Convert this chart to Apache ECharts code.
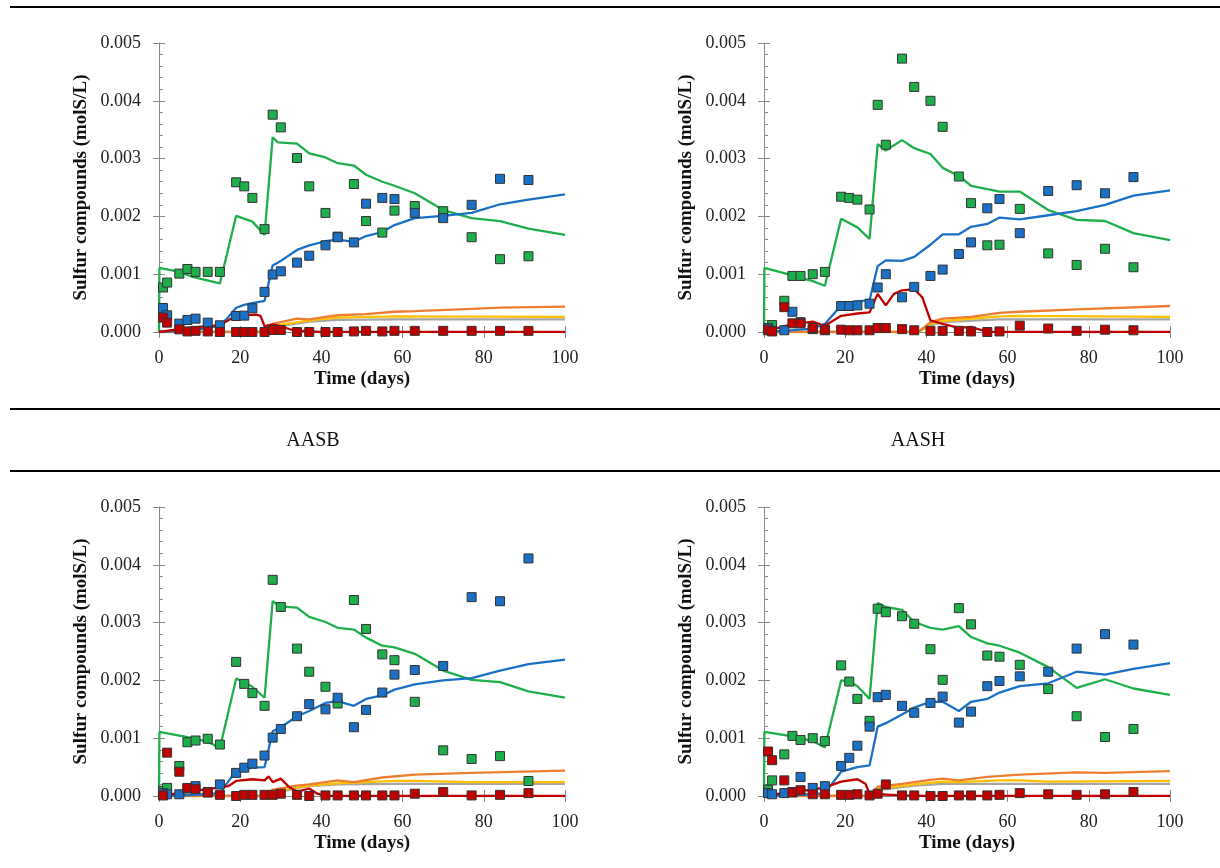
<!DOCTYPE html>
<html><head><meta charset="utf-8">
<script src="https://cdn.jsdelivr.net/npm/echarts@6/dist/echarts.min.js"></script>
<style>html,body{margin:0;padding:0;background:#fff}#c{width:1220px;height:868px}</style>
</head><body><div id="c"></div><script>
// ---------- DATA ----------
const sampleDays = [1,2,5,7,9,12,15,19,21,23,26,28,30,34,37,41,44,48,51,55,58,63,70,77,84,91];
const xTickValues = [0,20,40,60,80,100];
const yTickValues = [0,0.001,0.002,0.003,0.004,0.005];
const captionLabels = ['AASB','AASH'];
const yAxisTitle = 'Sulfur compounds (molS/L)';
const xAxisTitle = 'Time (days)';

// Panel 1 (AASB)
const p1GreenObs = [0.00077,0.000855,0.00101,0.00109,0.00104,0.00104,0.00104,0.00259,0.00252,0.00232,0.00178,0.00376,0.00354,0.00301,0.00252,0.00206,0.00165,0.00256,0.00192,0.00172,0.0021,0.00218,0.00209,0.00164,0.00126,0.00131];
const p1BlueObs = [0.000416,0.000289,0.000145,0.000208,0.000231,0.000162,0.000116,0.000277,0.000283,0.00041,0.000694,0.000994,0.00105,0.0012,0.00132,0.0015,0.00164,0.00155,0.00222,0.00232,0.0023,0.00206,0.00197,0.0022,0.00265,0.00263];
const p1RedObs = [0.000249,0.000162,0.000046,0.00001,0.00002,0.00001,0,0,0,0,0,0.000035,0.000035,0,0,0,0,0.00001,0.00002,0.00001,0.00002,0.00002,0.00002,0.00002,0.00002,0.00002];
const p1GreenModelT = [0,0.1,5,8,15,19,23,26,28,29.3,34,37,41,44,48,51,55,58,63,70,77,84,91,100];
const p1GreenModel = [0,0.00111,0.00104,0.00096,0.00084,0.00201,0.00191,0.00168,0.00337,0.00328,0.00326,0.00309,0.00302,0.00292,0.00288,0.00272,0.0026,0.00253,0.0024,0.00211,0.00197,0.00192,0.00179,0.00168];
const p1BlueModelT = [0,5,9,12,15,17,19,21,23,26,28,30,34,37,41,44,48,51,55,58,63,70,77,84,91,100];
const p1BlueModel = [0,0.00002,0.00004,0.00007,0.00011,0.00025,0.00042,0.00047,0.0005,0.00054,0.00115,0.00123,0.00142,0.0015,0.00157,0.0016,0.00156,0.00166,0.00173,0.00185,0.00197,0.00201,0.00206,0.00221,0.00229,0.00238];
const p1RedModelT = [0,7,12,15,17,19,24,25,26,28,30,33,37,40,100];
const p1RedModel = [0,0.00007,0.0001,0.00012,0.0002,0.00028,0.0003,0.00028,0.0001,0.00013,0.0001,0.00003,0.00001,0,0];
const p1OrangeModelT = [0,26,28,34,37,41,44,51,58,63,77,84,100];
const p1OrangeModel = [0,0,0.00014,0.00023,0.00022,0.00026,0.00029,0.00031,0.00035,0.00036,0.0004,0.00042,0.00044];
const p1YellowModelT = [0,26,28,37,44,58,100];
const p1YellowModel = [0,0,0.0001,0.0002,0.00025,0.00027,0.00026];
const p1GrayModelT = [0,26,28,37,44,58,100];
const p1GrayModel = [0,0,0.00008,0.00018,0.00021,0.00022,0.00022];

// Panel 2 (AASH)
const p2GreenObs = [0.00003,0.00012,0.00054,0.00097,0.00097,0.001,0.00104,0.00234,0.00232,0.00229,0.00212,0.00393,0.00324,0.00473,0.00424,0.004,0.00355,0.00269,0.00223,0.0015,0.00151,0.00213,0.00136,0.00116,0.00144,0.00112];
const p2BlueObs = [0.00007,0.00002,0.00003,0.00035,0.00017,0.00005,0.00003,0.00045,0.00045,0.00046,0.00049,0.00077,0.001,0.0006,0.00078,0.00097,0.00108,0.00135,0.00155,0.00214,0.0023,0.00171,0.00244,0.00254,0.0024,0.00268];
const p2RedObs = [0.00004,0.00001,0.00043,0.00015,0.00015,0.00007,0.00004,0.00004,0.00003,0.00003,0.00003,0.00007,0.00007,0.00005,0.00003,0.00002,0.00002,0.00002,0.00001,0,0.00001,0.00011,0.00006,0.00002,0.00004,0.00003];
const p2GreenModelT = [0,0.1,7,12,15,19,23,26,28,30,34,37,41,44,48,51,55,58,63,70,77,84,91,100];
const p2GreenModel = [0,0.00111,0.00098,0.00088,0.0008,0.00196,0.00181,0.00161,0.00325,0.00314,0.00332,0.00318,0.00308,0.00284,0.0027,0.00253,0.00247,0.00243,0.00243,0.00211,0.00194,0.00192,0.00171,0.00159];
const p2BlueModelT = [0,5,12,15,19,23,26,28,30,34,37,41,44,48,51,55,58,63,70,77,84,91,100];
const p2BlueModel = [0,0.00002,0.00006,0.00014,0.00046,0.00053,0.00055,0.00114,0.00124,0.00123,0.0013,0.00151,0.00169,0.00169,0.00182,0.00187,0.00198,0.00195,0.00202,0.00209,0.0022,0.00236,0.00245];
const p2RedModelT = [0,5,7,12,14,15,19,23,26,28,30,32,34,37,39,41,44,48,51,55,100];
const p2RedModel = [0,0.0001,0.00013,0.00018,0.00013,0.00011,0.00028,0.00032,0.00034,0.00066,0.00046,0.00066,0.00072,0.00074,0.0006,0.0002,0.00014,0.00007,0.00009,0,0];
const p2OrangeModelT = [0,38,41,44,51,58,63,77,100];
const p2OrangeModel = [0,0,0.00017,0.00023,0.00026,0.00033,0.00035,0.00039,0.00045];
const p2YellowModelT = [0,38,41,44,58,63,100];
const p2YellowModel = [0,0,0.00014,0.00019,0.00027,0.00028,0.00026];
const p2GrayModelT = [0,38,41,44,58,100];
const p2GrayModel = [0,0,0.00012,0.00017,0.00022,0.00022];

// Panel 3
const p3GreenObs = [0.00009,0.00014,0.00052,0.00093,0.00096,0.00099,0.00089,0.00232,0.00194,0.00178,0.00156,0.00374,0.00327,0.00255,0.00215,0.00189,0.0016,0.00339,0.00289,0.00245,0.00235,0.00163,0.00079,0.00064,0.00069,0.00026];
const p3BlueObs = [0.00005,0.00003,0.00003,0.00013,0.00017,0.00007,0.0002,0.0004,0.00049,0.00056,0.0007,0.00101,0.00116,0.00138,0.00159,0.0015,0.0017,0.00119,0.00149,0.00179,0.0021,0.00218,0.00225,0.00344,0.00337,0.00411];
const p3RedObs = [0.00001,0.00075,0.00042,0.00014,0.00012,0.00006,0.00002,0,0.00002,0.00002,0.00002,0.00002,0.00004,0.00002,0,0.00001,0.00001,0.00001,0.00001,0.00001,0.00001,0.00004,0.00007,0.00001,0.00002,0.00005];
const p3GreenModelT = [0,0.1,7,12,15,19,21,23,26,28,30,34,37,41,44,48,51,55,58,63,70,77,84,91,100];
const p3GreenModel = [0,0.00111,0.00102,0.00094,0.00083,0.00203,0.00197,0.00189,0.0017,0.00337,0.00328,0.00326,0.0031,0.00301,0.00291,0.00288,0.00274,0.0026,0.00257,0.00246,0.00217,0.00201,0.00197,0.00181,0.0017];
const p3BlueModelT = [0,12,15,19,23,26,28,30,34,37,41,44,48,51,55,58,63,70,77,84,91,100];
const p3BlueModel = [0,0.00003,0.00005,0.00044,0.00049,0.0005,0.00112,0.00119,0.00138,0.00147,0.00161,0.00164,0.00156,0.00168,0.00174,0.00184,0.00193,0.002,0.00204,0.00217,0.00228,0.00236];
const p3RedModelT = [0,7,12,15,17,19,23,26,27,28,30,32,34,37,39,41,100];
const p3RedModel = [0,0.00007,0.00012,0.00015,0.00017,0.00026,0.00029,0.00027,0.00034,0.00024,0.0003,0.00016,0.00007,0.00013,0.00004,0,0];
const p3OrangeModelT = [0,26,28,34,37,44,48,55,63,77,100];
const p3OrangeModel = [0,0,0.00011,0.00018,0.0002,0.00027,0.00024,0.00032,0.00037,0.0004,0.00044];
const p3YellowModelT = [0,26,28,37,44,58,63,77,100];
const p3YellowModel = [0,0,0.00007,0.00018,0.00022,0.00026,0.00026,0.00024,0.00024];
const p3GrayModelT = [0,26,28,37,44,58,100];
const p3GrayModel = [0,0,0.00005,0.00017,0.0002,0.00021,0.00021];

// Panel 4
const p4GreenObs = [0.00011,0.00027,0.00072,0.00104,0.00097,0.001,0.00095,0.00226,0.00198,0.00168,0.0013,0.00324,0.00318,0.00311,0.00298,0.00254,0.00201,0.00325,0.00297,0.00243,0.00241,0.00227,0.00185,0.00138,0.00102,0.00116];
const p4BlueObs = [0.00005,0.00003,0.00005,0.00007,0.00033,0.00014,0.00017,0.00052,0.00066,0.00087,0.0012,0.00171,0.00175,0.00156,0.00144,0.00161,0.00172,0.00127,0.00146,0.0019,0.00199,0.00207,0.00215,0.00255,0.0028,0.00262];
const p4RedObs = [0.00077,0.00062,0.00027,0.00006,0.0001,0.00003,0.00003,0.00002,0.00002,0.00003,0.00001,0.00004,0.0002,0.00001,0.00001,0,0,0.00001,0.00001,0.00001,0.00002,0.00005,0.00003,0.00002,0.00003,0.00007];
const p4GreenModelT = [0,0.1,7,12,15,19,21,23,26,28,30,34,37,41,44,48,51,55,58,63,70,77,84,91,100];
const p4GreenModel = [0,0.00111,0.00103,0.00095,0.00084,0.002,0.00198,0.0019,0.00168,0.00334,0.00327,0.00322,0.00301,0.00291,0.00288,0.00294,0.00275,0.00264,0.0026,0.00248,0.00223,0.00187,0.00202,0.00186,0.00175];
const p4BlueModelT = [0,12,15,19,23,26,28,30,34,37,41,44,48,51,55,58,63,70,77,84,91,100];
const p4BlueModel = [0,0.00003,0.00005,0.00042,0.0005,0.00053,0.0012,0.00126,0.00141,0.00153,0.00163,0.00163,0.00147,0.00163,0.00168,0.00179,0.0019,0.00195,0.00215,0.0021,0.0022,0.0023];
const p4RedModelT = [0,7,12,15,19,23,25,26,28,34,40,100];
const p4RedModel = [0,0.00007,0.00011,0.00015,0.00025,0.00029,0.00021,0.00004,0.00003,0.00001,0,0];
const p4OrangeModelT = [0,26,28,34,37,41,44,48,55,63,77,84,100];
const p4OrangeModel = [0,0,0.00016,0.00021,0.00024,0.00028,0.0003,0.00027,0.00033,0.00037,0.00041,0.0004,0.00043];
const p4YellowModelT = [0,26,28,37,44,48,58,63,70,100];
const p4YellowModel = [0,0,0.00012,0.0002,0.00025,0.00024,0.00027,0.00027,0.00025,0.00026];
const p4GrayModelT = [0,26,28,37,44,58,100];
const p4GrayModel = [0,0,0.0001,0.00018,0.00021,0.00021,0.00021];

// ---------- BUILD ----------
const panels = [
  {green:p1GreenObs, blue:p1BlueObs, red:p1RedObs,
   lines:[[p1GrayModelT,p1GrayModel],[p1YellowModelT,p1YellowModel],[p1OrangeModelT,p1OrangeModel],[p1GreenModelT,p1GreenModel],[p1BlueModelT,p1BlueModel],[p1RedModelT,p1RedModel]]},
  {green:p2GreenObs, blue:p2BlueObs, red:p2RedObs,
   lines:[[p2GrayModelT,p2GrayModel],[p2YellowModelT,p2YellowModel],[p2OrangeModelT,p2OrangeModel],[p2GreenModelT,p2GreenModel],[p2BlueModelT,p2BlueModel],[p2RedModelT,p2RedModel]]},
  {green:p3GreenObs, blue:p3BlueObs, red:p3RedObs,
   lines:[[p3GrayModelT,p3GrayModel],[p3YellowModelT,p3YellowModel],[p3OrangeModelT,p3OrangeModel],[p3GreenModelT,p3GreenModel],[p3BlueModelT,p3BlueModel],[p3RedModelT,p3RedModel]]},
  {green:p4GreenObs, blue:p4BlueObs, red:p4RedObs,
   lines:[[p4GrayModelT,p4GrayModel],[p4YellowModelT,p4YellowModel],[p4OrangeModelT,p4OrangeModel],[p4GreenModelT,p4GreenModel],[p4BlueModelT,p4BlueModel],[p4RedModelT,p4RedModel]]}
];
const lineColors = ['#a5a5a5','#ffc000','#ed7d31','#1fae4c','#1a70c4','#c00000'];
const obsColors = {green:'#1fae4c', blue:'#1a70c4', red:'#c00000'};
const gridPos = [{left:159,top:43},{left:764,top:43},{left:159,top:507},{left:764,top:507}];
const FONT = 'Liberation Serif';
const axisGray = '#8a8a8a';

const zip = (xs, ys) => xs.map((x,i)=>[x, ys[i]]);
const grid = [], xAxis = [], yAxis = [], series = [];
gridPos.forEach((g, gi) => {
  grid.push({left:g.left, top:g.top, width:406, height:289, outerBoundsMode:'none'});
  xAxis.push({gridIndex:gi, type:'value', min:xTickValues[0], max:xTickValues[xTickValues.length-1], interval:xTickValues[1]-xTickValues[0], position:'bottom',
    axisLine:{show:true, onZero:false, lineStyle:{color:axisGray,width:1}},
    axisTick:{show:true, length:6, lineStyle:{color:axisGray}},
    axisLabel:{margin:17, fontFamily:FONT, fontSize:18, color:'#222'},
    splitLine:{show:false},
    name:xAxisTitle, nameLocation:'middle', nameGap:38,
    nameTextStyle:{fontFamily:FONT, fontSize:19, fontWeight:'bold', color:'#111'}});
  xAxis.push({gridIndex:gi, type:'value', min:0, max:100, interval:20, position:'bottom',
    axisLine:{show:false, onZero:false}, axisTick:{show:true, inside:true, length:6, lineStyle:{color:axisGray}},
    axisLabel:{show:false}, splitLine:{show:false}});
  yAxis.push({gridIndex:gi, type:'value', min:yTickValues[0], max:yTickValues[yTickValues.length-1], interval:yTickValues[1]-yTickValues[0], position:'left',
    axisLine:{show:true, onZero:false, lineStyle:{color:axisGray,width:1}},
    axisTick:{show:true, length:6, lineStyle:{color:axisGray}},
    axisLabel:{margin:18, fontFamily:FONT, fontSize:18, color:'#222', formatter:v=>v.toFixed(3)},
    splitLine:{show:false},
    name:yAxisTitle, nameLocation:'middle', nameGap:68,
    nameTextStyle:{fontFamily:FONT, fontSize:19, fontWeight:'bold', color:'#111'}});
  yAxis.push({gridIndex:gi, type:'value', min:0, max:0.005, interval:0.001, position:'left',
    axisLine:{show:false, onZero:false}, axisTick:{show:true, inside:true, length:6, lineStyle:{color:axisGray}},
    minorTick:{show:true, splitNumber:5, length:4, lineStyle:{color:axisGray}},
    axisLabel:{show:false}, splitLine:{show:false}});
  const p = panels[gi];
  p.lines.forEach((ln, li) => {
    series.push({type:'line', xAxisIndex:gi*2, yAxisIndex:gi*2, data:zip(ln[0], ln[1]),
      showSymbol:false, symbol:'none', lineStyle:{color:lineColors[li], width:2.3}, z:2+li*0.01, animation:false});
  });
  ['green','blue','red'].forEach((k, ki) => {
    series.push({type:'scatter', xAxisIndex:gi*2, yAxisIndex:gi*2, data:zip(sampleDays, p[k]),
      symbol:'rect', symbolSize:9, itemStyle:{color:obsColors[k], borderColor:'#333', borderWidth:1, opacity:1},
      z:5, animation:false});
  });
});

const rule = (y, x1) => ({type:'line', shape:{x1:x1, y1:y, x2:1220, y2:y}, style:{stroke:'#000', lineWidth:2}});
const graphic = [
  rule(7, 10), rule(409, 10), rule(471, 10),
  {type:'text', x:313, y:441, style:{text:captionLabels[0], font:'20px "Liberation Serif"', fill:'#111', align:'center', verticalAlign:'middle'}},
  {type:'text', x:918, y:441, style:{text:captionLabels[1], font:'20px "Liberation Serif"', fill:'#111', align:'center', verticalAlign:'middle'}}
];

const chart = echarts.init(document.getElementById('c'), null, {renderer:'canvas'});
chart.setOption({animation:false, grid, xAxis, yAxis, series, graphic});
</script></body></html>
